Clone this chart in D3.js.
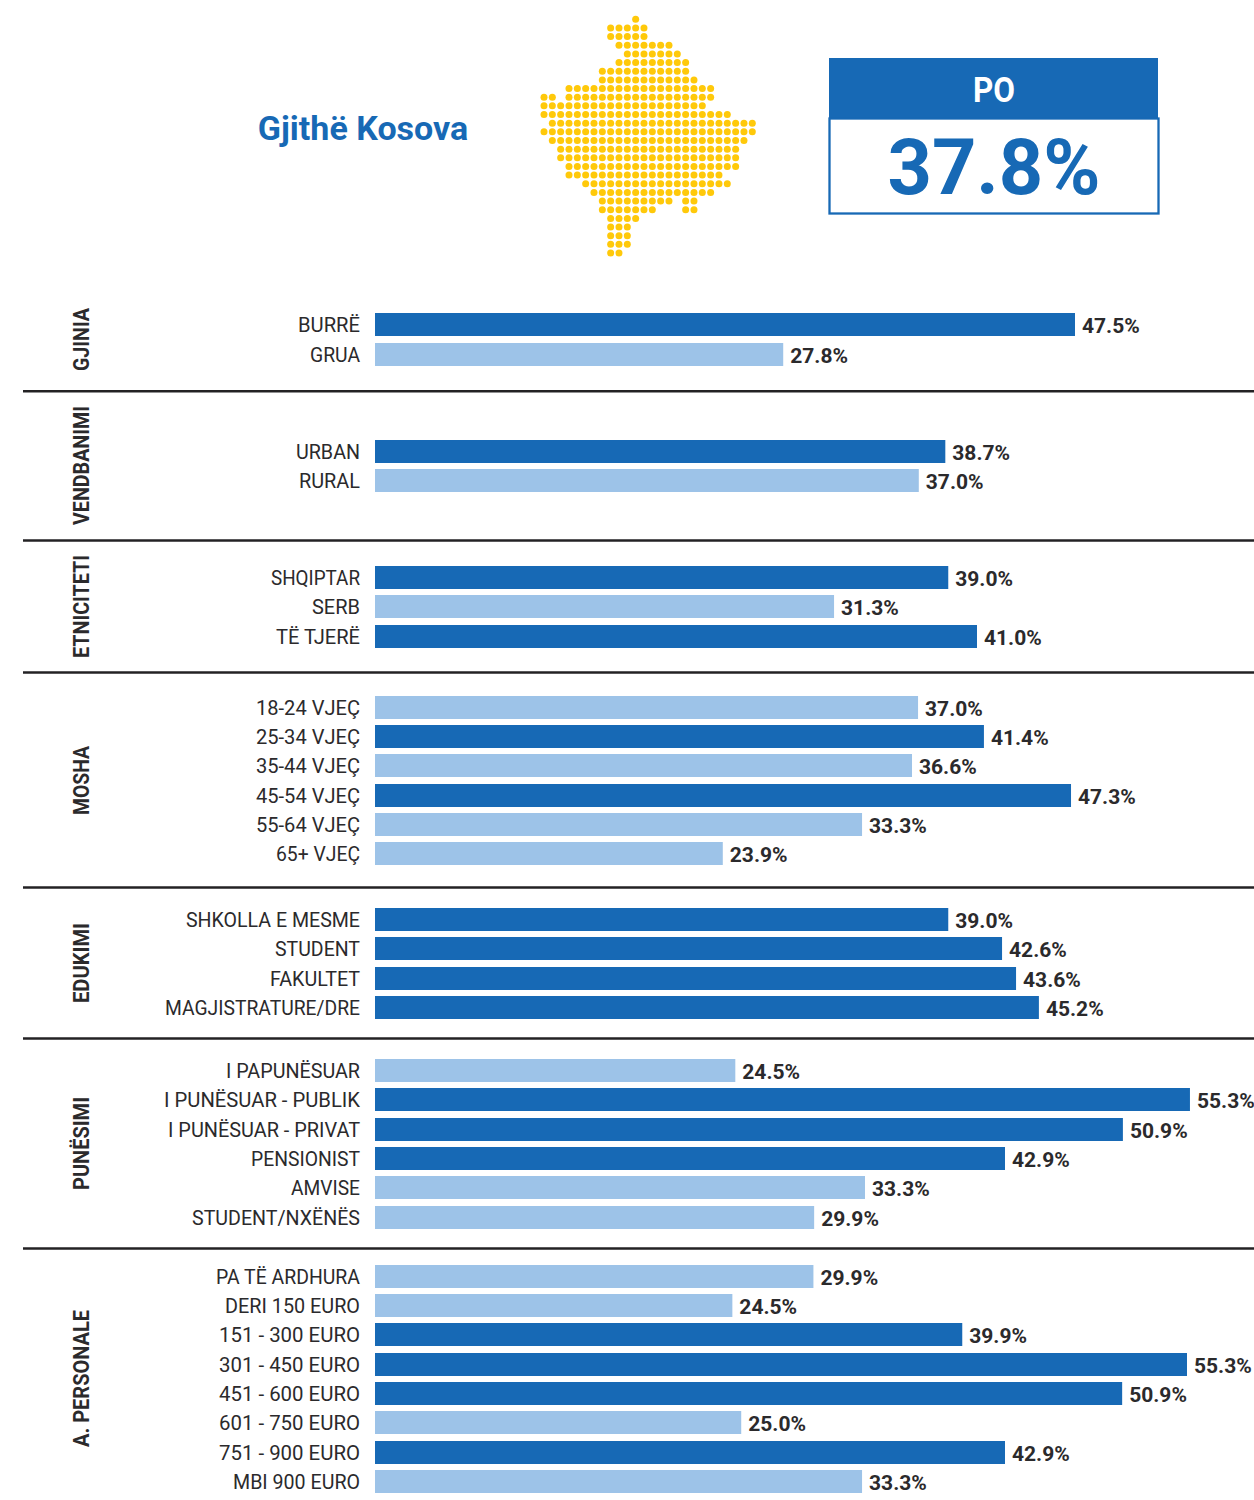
<!DOCTYPE html>
<html><head><meta charset="utf-8">
<script src="https://cdn.jsdelivr.net/npm/d3@7"></script>
<style>html,body{margin:0;padding:0;background:#fff}svg{display:block}</style>
</head><body><svg id="c" width="1254" height="1500"></svg>
<script>
const DARK="#1769b5", LIGHT="#9dc3e8", INK="#2b2a2c", GOLD="#ffc90a";
const groupNames=["GJINIA","VENDBANIMI","ETNICITETI","MOSHA","EDUKIMI","PUNËSIMI","A. PERSONALE"];
const gjiniaLabels=["BURRË","GRUA"], gjiniaValues=[47.5,27.8], gjiniaBars=[47.5,27.7], gjiniaTones=[1,0];
const vendLabels=["URBAN","RURAL"], vendValues=[38.7,37.0], vendBars=[38.7,36.9], vendTones=[1,0];
const etnLabels=["SHQIPTAR","SERB","TË TJERË"], etnValues=[39.0,31.3,41.0], etnBars=[38.9,31.15,40.85], etnTones=[1,0,1];
const moshaLabels=["18-24 VJEÇ","25-34 VJEÇ","35-44 VJEÇ","45-54 VJEÇ","55-64 VJEÇ","65+ VJEÇ"], moshaValues=[37.0,41.4,36.6,47.3,33.3,23.9], moshaBars=[36.85,41.32,36.44,47.23,33.05,23.6], moshaTones=[0,1,0,1,0,0];
const eduLabels=["SHKOLLA E MESME","STUDENT","FAKULTET","MAGJISTRATURE/DRE"], eduValues=[39.0,42.6,43.6,45.2], eduBars=[38.9,42.55,43.5,45.05], eduTones=[1,1,1,1];
const punLabels=["I PAPUNËSUAR","I PUNËSUAR - PUBLIK","I PUNËSUAR - PRIVAT","PENSIONIST","AMVISE","STUDENT/NXËNËS"], punValues=[24.5,55.3,50.9,42.9,33.3,29.9], punBars=[24.45,55.3,50.75,42.75,33.25,29.8], punTones=[0,1,1,1,0,0];
const persLabels=["PA TË ARDHURA","DERI 150 EURO","151 - 300 EURO","301 - 450 EURO","451 - 600 EURO","601 - 750 EURO","751 - 900 EURO","MBI 900 EURO"], persValues=[29.9,24.5,39.9,55.3,50.9,25.0,42.9,33.3], persBars=[29.75,24.25,39.85,55.1,50.7,24.85,42.75,33.05], persTones=[0,0,1,1,1,0,1,0];
const rowCenters=[
 [324.5,354.5],[451.5,480.5],[577.5,606.5,636.5],[707.5,736.5,765.5,795.5,824.5,853.5],
 [919.5,948.5,978.5,1007.5],[1070.5,1099.5,1129.5,1158.5,1187.5,1217.5],
 [1276.5,1305.5,1334.5,1364.5,1393.5,1422.5,1452.5,1481.5]];
const labelWidths=[[62,50],[64,61],[89,48,84],[104,104,104,104,104,84],[174,85,90,195],[134,196,192,109,69,168],[144,135,141,141,141,141,141,127]];
const groupCenters=[339.5,465.5,606.5,780.5,963,1143.5,1378.5];
const groupWidths=[63,119,103,69,80,93,137];
const ruleYs=[391.2,540.5,672.5,887.5,1038.5,1248.5];
const allLabels=[gjiniaLabels,vendLabels,etnLabels,moshaLabels,eduLabels,punLabels,persLabels];
const allValues=[gjiniaValues,vendValues,etnValues,moshaValues,eduValues,punValues,persValues];
const allBars=[gjiniaBars,vendBars,etnBars,moshaBars,eduBars,punBars,persBars];
const allTones=[gjiniaTones,vendTones,etnTones,moshaTones,eduTones,punTones,persTones];
// Map: per grid row, the [first,last] column spans that hold dots
const mapSpans=[[[11,11]],[[8,12]],[[8,12]],[[9,15]],[[10,16]],[[9,17]],[[7,17]],[[7,18]],[[3,20]],[[0,1],[3,20]],[[0,19]],[[0,22]],[[1,25]],[[0,25]],[[1,24]],[[2,23]],[[2,23]],[[3,23]],[[3,21]],[[5,22]],[[6,20]],[[7,15],[17,18]],[[7,13],[17,18]],[[8,11]],[[8,10]],[[8,10]],[[8,10]],[[8,9]]];
const titleText="Gjithë Kosova", boxHead="PO", boxValue="37.8%";

const svg=d3.select("#c");
const x=d3.scaleLinear().domain([0,47.5]).range([375,1075]);
const BAR_H=23;
const FONT="Roboto, 'Noto Sans', sans-serif";

// map
const mx=d3.scaleLinear().domain([0,25]).range([544,752.3]);
const my=d3.scaleLinear().domain([0,27]).range([19.3,253]);
const dots=mapSpans.flatMap((spans,r)=>spans.flatMap(([a,b])=>d3.range(a,b+1).map(c=>({r,c}))));
svg.append("g").selectAll("circle").data(dots).join("circle")
  .attr("cx",d=>mx(d.c)).attr("cy",d=>my(d.r)).attr("r",3.5).attr("fill",GOLD);

// title
svg.append("text").attr("x",363).attr("y",140).attr("text-anchor","middle")
  .attr("font-family",FONT).attr("font-weight",700).attr("font-size",34).attr("fill",DARK).text(titleText);

// box
svg.append("rect").attr("x",829).attr("y",58).attr("width",329).attr("height",60).attr("fill",DARK);
svg.append("rect").attr("x",829.5).attr("y",118.5).attr("width",329).attr("height",95).attr("fill","none").attr("stroke",DARK).attr("stroke-width",2.3);
svg.append("text").attr("x",994).attr("y",102).attr("text-anchor","middle").attr("font-family",FONT).attr("font-weight",700).attr("font-size",35)
  .attr("textLength",42).attr("lengthAdjust","spacingAndGlyphs").attr("fill","#fff").text(boxHead);
svg.append("text").attr("x",994).attr("y",194).attr("text-anchor","middle").attr("font-family",FONT).attr("font-weight",700).attr("font-size",78)
  .attr("textLength",213).attr("lengthAdjust","spacingAndGlyphs").attr("fill",DARK).text(boxValue);

// rules
svg.append("g").selectAll("line").data(ruleYs).join("line")
  .attr("x1",23).attr("x2",1254).attr("y1",d=>d).attr("y2",d=>d).attr("stroke","#232224").attr("stroke-width",2.4);

// groups
groupNames.forEach((name,i)=>{
  const g=svg.append("g");
  g.append("text").attr("transform",`translate(89,${groupCenters[i]}) rotate(-90)`).attr("text-anchor","middle")
    .attr("font-family",FONT).attr("font-weight",700).attr("font-size",22).attr("fill",INK)
    .attr("textLength",groupWidths[i]).attr("lengthAdjust","spacingAndGlyphs").text(name);
  const rows=allLabels[i].map((l,j)=>({l,v:allValues[i][j],b:allBars[i][j],t:allTones[i][j],c:rowCenters[i][j],w:labelWidths[i][j]}));
  g.selectAll("rect").data(rows).join("rect")
    .attr("x",x(0)).attr("y",d=>d.c-BAR_H/2).attr("width",d=>x(d.b)-x(0)).attr("height",BAR_H)
    .attr("fill",d=>d.t?DARK:LIGHT);
  g.selectAll("text.l").data(rows).join("text").attr("class","l")
    .attr("x",360).attr("y",d=>d.c+7.5).attr("text-anchor","end")
    .attr("font-family",FONT).attr("font-size",20.5).attr("fill",INK)
    .attr("textLength",d=>d.w).attr("lengthAdjust","spacingAndGlyphs").text(d=>d.l);
  g.selectAll("text.v").data(rows).join("text").attr("class","v")
    .attr("x",d=>x(d.b)+7).attr("y",d=>d.c+8.3).attr("text-anchor","start")
    .attr("font-family",FONT).attr("font-weight",700).attr("font-size",21).attr("fill",INK).text(d=>d3.format(".1f")(d.v)+"%");
});
</script></body></html>
